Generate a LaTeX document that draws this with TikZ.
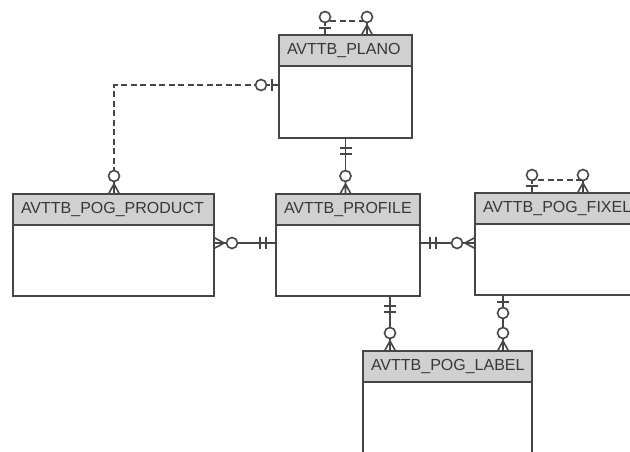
\documentclass[tikz,border=0pt]{standalone}
\usepackage{fontspec}
\setmainfont{Liberation Sans}
\usetikzlibrary{positioning}

\definecolor{entline}{RGB}{70,70,70}
\definecolor{headfill}{RGB}{208,208,208}
\definecolor{txtgray}{RGB}{55,55,55}

\tikzset{
  enthead/.style={draw=entline, fill=headfill, line width=1.6pt, anchor=north west,
    text width=#1, align=left, inner xsep=8pt, inner ysep=0pt, outer sep=0pt,
    minimum height=31pt, text=txtgray, font=\fontsize{16}{18}\selectfont},
  entbody/.style 2 args={draw=entline, fill=white, line width=1.6pt, outer sep=0pt,
    minimum width=#1, minimum height=#2, inner sep=0pt},
  rel/.style={draw=entline, line width=1.6pt},
  reldash/.style={rel, dash pattern=on 6pt off 3.5pt},
  zmany/.pic={\draw[rel] (0,-5.5) -- (10,0) -- (0,5.5) (0,0) -- (13,0);
    \draw[rel, fill=white] (18,0) circle[radius=5.5pt];},
  exone/.pic={\draw[rel] (10,-6) -- (10,6) (16,-6) -- (16,6);},
  zone/.pic={\draw[rel] (7,-6) -- (7,6);
    \draw[rel, fill=white] (18,0) circle[radius=5.5pt];}
}

\begin{document}
\begin{tikzpicture}[x=1pt, y=-1pt]
\clip (0,0) rectangle (630,451);

% entities
\node[enthead=117pt] (planohead) at (279,35) {AVTTB\_PLANO};
\node[entbody={133pt}{72pt}, below=0pt of planohead] (planobody) {};
\node[enthead=185pt] (prodhead) at (13,194) {AVTTB\_POG\_PRODUCT};
\node[entbody={201pt}{71pt}, below=0pt of prodhead] (prodbody) {};
\node[enthead=128pt] (profhead) at (276,194) {AVTTB\_PROFILE};
\node[entbody={144pt}{71pt}, below=0pt of profhead] (profbody) {};
\node[enthead=159pt] (fixhead) at (475,193) {AVTTB\_POG\_FIXEL};
\node[entbody={175pt}{71pt}, below=0pt of fixhead] (fixbody) {};
\node[enthead=153pt] (lblhead) at (363,351) {AVTTB\_POG\_LABEL};
\node[entbody={169pt}{80pt}, below=0pt of lblhead] (lblbody) {};

\coordinate (pp) at (114,85);
\coordinate (midrow) at (0,243);
\coordinate (lblcol) at (390,0);
\coordinate (lblcol2) at (503,0);
\coordinate (pla) at (325,35);
\coordinate (plb) at (367,35);
\coordinate (fxa) at (532,193);
\coordinate (fxb) at (583,193);

% relationships
\draw[reldash] (pp -| planobody.west) -- (pp) -- (pp |- prodhead.north);
\draw[rel] (planobody.south) -- (planobody.south |- profhead.north);
\draw[rel] (midrow -| prodbody.east) -- (midrow -| profbody.west);
\draw[rel] (midrow -| profbody.east) -- (midrow -| fixbody.west);
\draw[rel] (lblcol |- profbody.south) -- (lblcol |- lblhead.north);
\draw[rel] (lblcol2 |- fixbody.south) -- (lblcol2 |- lblhead.north);
\draw[reldash] (pla) -- ++(0,-14) -| (plb);
\draw[reldash] (fxa) -- ++(0,-13) -| (fxb);

\pic[rotate=180] at (pp -| planobody.west) {zone};
\pic[rotate=90] at (pp |- prodhead.north) {zmany};
\pic[rotate=-90] at (planobody.south) {exone};
\pic[rotate=90] at (planobody.south |- profhead.north) {zmany};
\pic at (midrow -| prodbody.east) {zmany};
\pic[rotate=180] at (midrow -| profbody.west) {exone};
\pic at (midrow -| profbody.east) {exone};
\pic[rotate=180] at (midrow -| fixbody.west) {zmany};
\pic[rotate=-90] at (lblcol |- profbody.south) {exone};
\pic[rotate=90] at (lblcol |- lblhead.north) {zmany};
\pic[rotate=-90] at (lblcol2 |- fixbody.south) {zone};
\pic[rotate=90] at (lblcol2 |- lblhead.north) {zmany};
\pic[rotate=90] at (pla) {zone};
\pic[rotate=90] at (plb) {zmany};
\pic[rotate=90] at (fxa) {zone};
\pic[rotate=90] at (fxb) {zmany};
\end{tikzpicture}
\end{document}
